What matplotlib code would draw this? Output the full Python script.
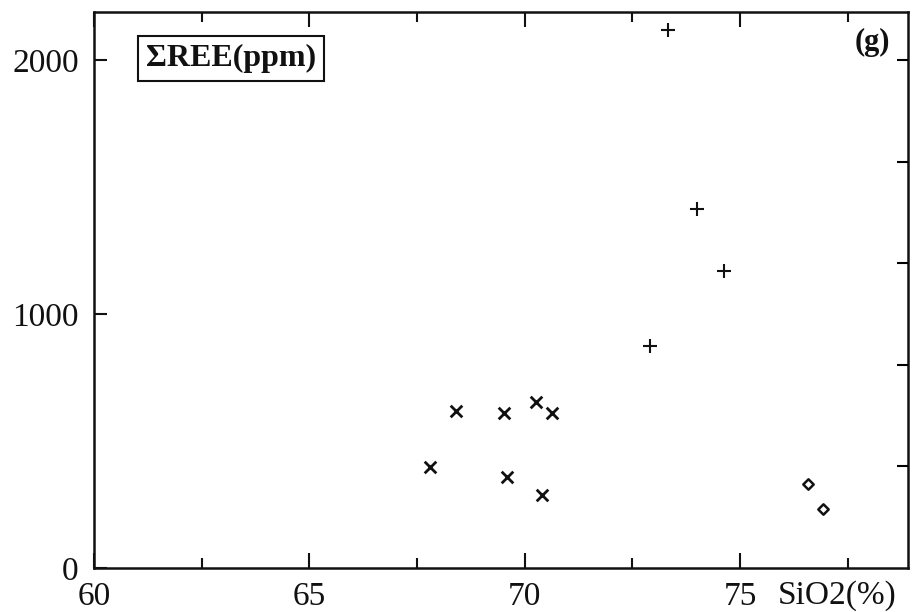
import matplotlib
matplotlib.use("Agg")
import matplotlib.pyplot as plt
from matplotlib.ticker import FixedLocator

plt.rcParams['font.family'] = ['Liberation Serif', 'DejaVu Serif']

# Group 1 (x markers)
g1_sio2 = [68.40, 69.51, 70.26, 70.63, 67.81, 69.58, 70.40]
g1_ree = [618, 610, 654, 610, 398, 358, 287]
# Group 2 (+ markers)
g2_sio2 = [73.33, 74.00, 74.63, 72.91]
g2_ree = [2118, 1413, 1169, 874]
# Group 3 (open diamonds)
g3_sio2 = [76.58, 76.93]
g3_ree = [331, 232]

xticks_major = [60, 65, 70, 75]
xtick_labels = ["60", "65", "70", "75"]
xticks_minor = [62.5, 67.5, 72.5, 77.5]
yticks_major = [0, 1000, 2000]
ytick_labels = ["0", "1000", "2000"]
right_ticks = [400, 800, 1200, 1600, 2000]

W, H = 913, 612
fig = plt.figure(figsize=(W / 100, H / 100), dpi=100)
ax = fig.add_axes([94 / W, (H - 568) / H, (908 - 94) / W, (568 - 12) / H])

ax.scatter(g1_sio2, g1_ree, marker='x', s=70, c='#111111', linewidths=2.0)
ax.scatter(g2_sio2, g2_ree, marker='+', s=90, c='#111111', linewidths=1.5)
ax.scatter(g3_sio2, g3_ree, marker='D', s=28, facecolors='white', edgecolors='#111111', linewidths=1.8)

ax.set_xlim(60, 78.9)
ax.set_ylim(0, 2190)

for sp in ax.spines.values():
    sp.set_linewidth(1.8)
    sp.set_color('#111111')

ax.xaxis.set_major_locator(FixedLocator(xticks_major))
ax.set_xticklabels(xtick_labels)
ax.xaxis.set_minor_locator(FixedLocator(xticks_minor))
ax.yaxis.set_major_locator(FixedLocator(yticks_major))
ax.set_yticklabels(ytick_labels)

ax.tick_params(axis='x', which='major', direction='in', length=11, width=1.5,
               top=True, labelsize=24, pad=10, colors='#111111')
ax.tick_params(axis='x', which='minor', direction='in', length=7, width=1.5,
               top=True, colors='#111111')
ax.tick_params(axis='y', which='major', direction='in', length=9, width=1.5,
               right=False, labelsize=24, pad=11, colors='#111111')

# right-side ticks (no labels)
ax2 = ax.twinx()
ax2.set_ylim(ax.get_ylim())
ax2.yaxis.set_major_locator(FixedLocator(right_ticks))
ax2.tick_params(axis='y', direction='in', length=8, width=1.5, labelright=False)
for sp in ax2.spines.values():
    sp.set_visible(False)

ax.text(0.064, 0.917, "ΣREE(ppm)", transform=ax.transAxes, fontsize=23,
        fontweight='bold', va='center', ha='left', color='#111111',
        bbox=dict(boxstyle='square,pad=0.25', facecolor='white', edgecolor='#111111', linewidth=1.5))
ax.text(0.978, 0.945, "(g)", transform=ax.transAxes, fontsize=22,
        fontweight='bold', va='center', ha='right', color='#111111')
fig.text(778 / W, (H - 596) / H, "SiO2(%)", fontsize=24, va='center', ha='left', color='#111111')

fig.savefig("out.png", dpi=100)
